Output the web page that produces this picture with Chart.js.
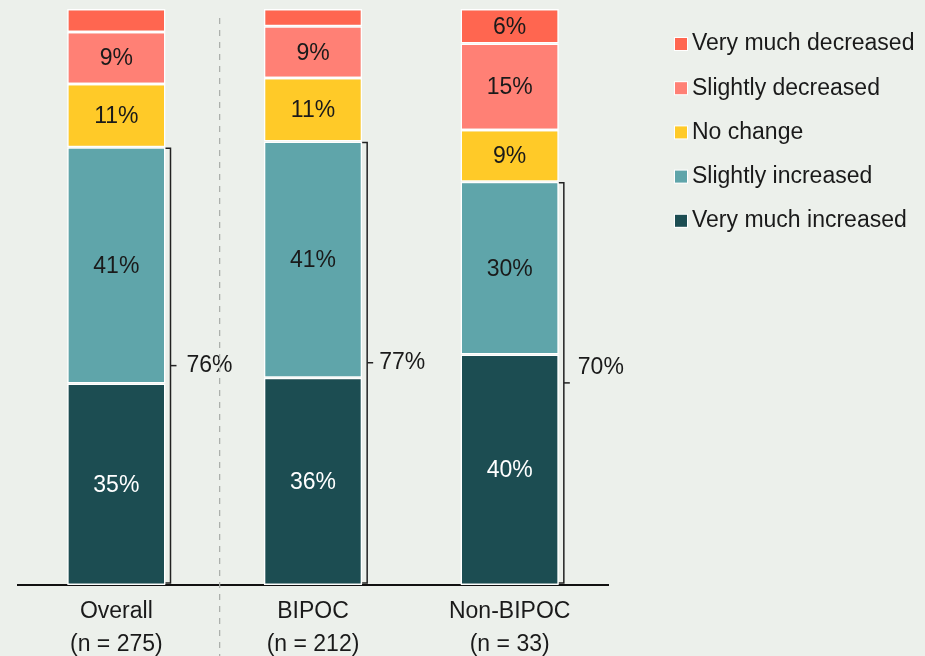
<!DOCTYPE html>
<html>
<head>
<meta charset="utf-8">
<script src="https://cdn.jsdelivr.net/npm/chart.js@4.4.1/dist/chart.umd.min.js"></script>
<style>
  html, body { margin: 0; padding: 0; background: #ECF0EB; }
  #wrap { width: 925px; height: 656px; position: relative; }
</style>
</head>
<body>
<div id="wrap"><canvas id="c" width="925" height="656"></canvas></div>
<script>
const categories = [["Overall", "(n = 275)"], ["BIPOC", "(n = 212)"], ["Non-BIPOC", "(n = 33)"]];
const seriesNames = ["Very much increased", "Slightly increased", "No change", "Slightly decreased", "Very much decreased"];
const veryMuchIncreased = [35, 36, 40];
const slightlyIncreased = [41, 41, 30];
const noChange = [11, 11, 9];
const slightlyDecreased = [9, 9, 15];
const veryMuchDecreased = [4, 3, 6];
const seriesColors = ["#1C4D52", "#5FA5AA", "#FFCA28", "#FF8075", "#FF6650"];

const seriesValues = [veryMuchIncreased, slightlyIncreased, noChange, slightlyDecreased, veryMuchDecreased];
const FONT = "'Liberation Sans', Arial, sans-serif";

const overlay = {
  id: 'overlay',
  afterDatasetsDraw(chart) {
    const ctx = chart.ctx;
    const xs = chart.scales.x, ys = chart.scales.y;
    ctx.save();
    // data labels
    ctx.font = "23px " + FONT;
    ctx.textAlign = 'center';
    ctx.textBaseline = 'middle';
    chart.data.datasets.forEach((ds, di) => {
      const meta = chart.getDatasetMeta(di);
      meta.data.forEach((bar, i) => {
        const v = ds.data[i];
        if (v < 5) return;
        const top = bar.y, bottom = bar.base;
        ctx.fillStyle = di === 0 ? '#FFFFFF' : '#1A1A1A';
        ctx.fillText(v + '%', bar.x, (top + bottom) / 2 + 1);
      });
    });
    // brackets for increased totals
    const m1 = chart.getDatasetMeta(1);
    const labelOffsetY = [0, 0, -15];
    const labelOffsetX = [16, 12, 14];
    ctx.strokeStyle = '#222';
    ctx.lineWidth = 1.5;
    categories.forEach((c, i) => {
      const b = m1.data[i];
      const x = b.x + b.width / 2 + 5;
      const yTop = b.y + 1;
      const yBot = ys.getPixelForValue(0) - 2;
      ctx.beginPath();
      ctx.moveTo(x - 5, yTop); ctx.lineTo(x, yTop); ctx.lineTo(x, yBot); ctx.lineTo(x - 5, yBot);
      ctx.stroke();
      const ym = (yTop + yBot) / 2;
      ctx.beginPath();
      ctx.moveTo(x, ym); ctx.lineTo(x + 6, ym);
      ctx.stroke();
      const total = veryMuchIncreased[i] + slightlyIncreased[i];
      ctx.fillStyle = '#1A1A1A';
      ctx.textAlign = 'left';
      ctx.fillText(total + '%', x + labelOffsetX[i], ym + labelOffsetY[i]);
    });
    // dashed separator
    const sx = (xs.getPixelForValue(0) + xs.getPixelForValue(1)) / 2 + 5;
    ctx.strokeStyle = '#A8ACA8';
    ctx.lineWidth = 1.2;
    ctx.setLineDash([6, 6]);
    ctx.beginPath();
    ctx.moveTo(sx, 18); ctx.lineTo(sx, chart.height);
    ctx.stroke();
    ctx.setLineDash([]);
    // legend (reverse order)
    ctx.font = "23px " + FONT;
    ctx.textBaseline = 'middle';
    ctx.textAlign = 'left';
    const lx = 675, ly0 = 44, step = 44.2;
    const n = chart.data.datasets.length;
    for (let k = 0; k < n; k++) {
      const di = n - 1 - k;
      const ds = chart.data.datasets[di];
      const y = ly0 + k * step;
      ctx.fillStyle = '#FFFFFF';
      ctx.fillRect(lx - 1, y - 7, 14, 14);
      ctx.fillStyle = ds.backgroundColor;
      ctx.fillRect(lx, y - 6, 12, 12);
      ctx.fillStyle = '#1A1A1A';
      ctx.fillText(ds.label, lx + 17, y);
    }
    ctx.restore();
  }
};

new Chart(document.getElementById('c'), {
  type: 'bar',
  data: {
    labels: categories,
    datasets: seriesNames.map((name, i) => ({
      label: name,
      data: seriesValues[i],
      backgroundColor: seriesColors[i],
      borderColor: '#FFFFFF',
      borderWidth: 1.5,
      borderSkipped: false,
      barPercentage: 0.5,
      categoryPercentage: 1.0
    }))
  },
  options: {
    responsive: false,
    animation: false,
    layout: { padding: { left: 18, right: 317, top: 9, bottom: 0 } },
    plugins: { legend: { display: false }, tooltip: { enabled: false } },
    scales: {
      x: {
        stacked: true,
        grid: { display: false, drawTicks: false },
        border: { display: true, color: '#111', width: 2 },
        ticks: { color: '#1A1A1A', padding: 11, font: { family: FONT, size: 23, lineHeight: 1.4 } },
        afterFit: (s) => { s.height = 71; }
      },
      y: {
        stacked: true,
        display: false,
        min: 0,
        max: 100
      }
    }
  },
  plugins: [overlay]
});
</script>
</body>
</html>
